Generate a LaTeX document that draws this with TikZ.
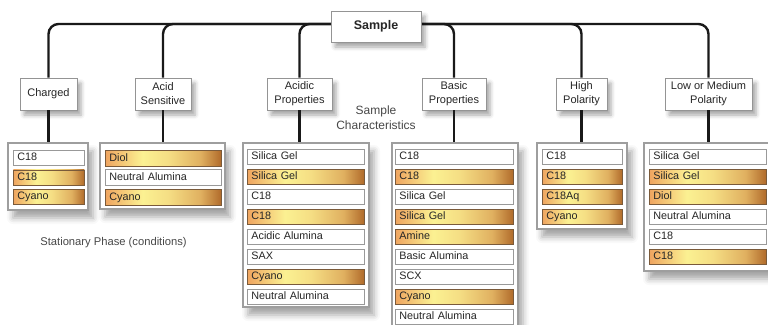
\documentclass[tikz,border=0pt]{standalone}
\usepackage{fontspec}
\setmainfont{Liberation Sans}
\usetikzlibrary{shadows.blur}
\definecolor{gl}{HTML}{EFA560}
\definecolor{gy}{HTML}{FBF192}
\definecolor{gy2}{HTML}{F5DE84}
\definecolor{gd}{HTML}{E0B060}
\definecolor{gr}{HTML}{B06A2A}
\definecolor{gbord}{HTML}{7A5A3A}
\pgfdeclarehorizontalshading{goldbar}{100bp}{color(0bp)=(gl); color(25bp)=(gl); color(41bp)=(gy); color(52bp)=(gy2); color(66bp)=(gd); color(75bp)=(gr); color(100bp)=(gr)}
\begin{document}
\begin{tikzpicture}[x=1pt,y=-1pt,
  conn/.style={line width=2.4pt, draw=black!90, rounded corners=10pt},
  catbox/.style={draw=black!42, line width=0.9pt, fill=white, align=center, inner xsep=3pt, inner ysep=0pt,
    minimum height=32pt, text=black!85, font=\fontsize{11}{14}\selectfont,
    blur shadow={shadow xshift=4pt, shadow yshift=-5pt, shadow blur radius=4pt, shadow opacity=35}},
  listbox/.style={draw=black!38, line width=1.1pt, fill=white, inner sep=0pt,
    blur shadow={shadow xshift=5pt, shadow yshift=-8pt, shadow blur radius=6pt, shadow opacity=35}},
  itm/.style={line width=0.8pt, inner xsep=4pt, inner ysep=0pt, minimum height=15pt, anchor=north west,
    align=left, text height=8.5pt, text depth=2.5pt, font=\fontsize{10.8}{12}\selectfont, text=black!85},
  wb/.style={itm, draw=black!40, fill=white},
  gb/.style={itm, draw=gbord, shading=goldbar},
  lbl/.style={text=black!72, align=center}
]
\useasboundingbox (0,0) rectangle (768,324);

% category nodes
\node[catbox, minimum width=57pt] (charged) at (48.5,94) {Charged};
\node[catbox, minimum width=56pt] (acid) at (163,94) {Acid\\Sensitive};
\node[catbox, minimum width=65pt] (acidic) at (299.5,94) {Acidic\\Properties};
\node[catbox, minimum width=64pt] (basic) at (454,94) {Basic\\Properties};
\node[catbox, minimum width=51pt] (high) at (581.5,94) {High\\Polarity};
\node[catbox, minimum width=87pt] (low) at (708.5,94) {Low or Medium\\Polarity};

% list boxes
\node[listbox, minimum width=80pt, minimum height=67pt] (l1) at (48,176.5) {};
\node[listbox, minimum width=125pt, minimum height=66pt] (l2) at (162.5,176) {};
\node[listbox, minimum width=126pt, minimum height=164pt] (l3) at (306,225) {};
\node[listbox, minimum width=126pt, minimum height=194pt] (l4) at (455,240) {};
\node[listbox, minimum width=90pt, minimum height=86pt] (l5) at (582,186) {};
\node[listbox, minimum width=125pt, minimum height=128pt] (l6) at (706.5,207) {};

% items
\foreach \t/\s [count=\i from 0] in {C18/wb,C18/gb,Cyano/gb}
  \node[\s, text width=63pt] (a\i) at (13,{150+19.5*\i}) {\t};
\foreach \t/\s [count=\i from 0] in {Diol/gb,Neutral Alumina/wb,Cyano/gb}
  \node[\s, text width=108pt, minimum height=16pt] (b\i) at (105,{150+19.3*\i}) {\t};
\foreach \t/\s [count=\i from 0] in {Silica Gel/wb,Silica Gel/gb,C18/wb,C18/gb,Acidic Alumina/wb,SAX/wb,Cyano/gb,Neutral Alumina/wb}
  \node[\s, text width=109pt] (c\i) at (247,{149+20*\i}) {\t};
\foreach \t/\s [count=\i from 0] in {C18/wb,C18/gb,Silica Gel/wb,Silica Gel/gb,Amine/gb,Basic Alumina/wb,SCX/wb,Cyano/gb,Neutral Alumina/wb}
  \node[\s, text width=110pt] (d\i) at (395,{149+20*\i}) {\t};
\foreach \t/\s [count=\i from 0] in {C18/wb,C18/gb,C18Aq/gb,Cyano/gb}
  \node[\s, text width=72pt] (e\i) at (542,{149+20*\i}) {\t};
\foreach \t/\s [count=\i from 0] in {Silica Gel/wb,Silica Gel/gb,Diol/gb,Neutral Alumina/wb,C18/wb,C18/gb}
  \node[\s, text width=109pt] (f\i) at (649,{149+20*\i}) {\t};

% connectors
\coordinate (hub) at (376,24);
\draw[conn] (hub) -| (charged.north);
\draw[conn] (hub) -| (acid.north);
\draw[conn] (hub) -| (acidic.north);
\draw[conn] (hub) -| (basic.north);
\draw[conn] (hub) -| (high.north);
\draw[conn] (hub) -| (low.north);
\draw[conn] (charged.south) -- (charged.south |- l1.north);
\draw[conn] (acid.south) -- (acid.south |- l2.north);
\draw[conn] (acidic.south) -- (acidic.south |- l3.north);
\draw[conn] (basic.south) -- (basic.south |- l4.north);
\draw[conn] (high.south) -- (high.south |- l5.north);
\draw[conn] (low.south) -- (low.south |- l6.north);

% top node
\node[catbox, minimum width=90pt, minimum height=31pt, font=\bfseries\fontsize{12.5}{15}\selectfont] (sample) at (376,26.5) {Sample};

% labels
\node[lbl, font=\fontsize{12}{15}\selectfont] (sc) at (376,118) {Sample\\Characteristics};
\node[lbl, font=\fontsize{11.2}{13}\selectfont] (sp) at (113.5,243) {Stationary Phase (conditions)};
\end{tikzpicture}
\end{document}
